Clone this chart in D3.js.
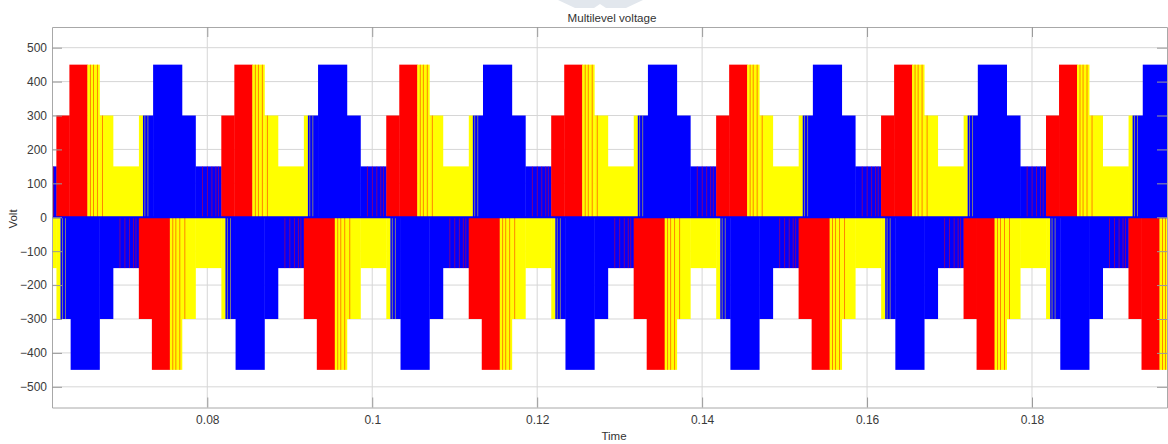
<!DOCTYPE html>
<html>
<head>
<meta charset="utf-8">
<script src="https://cdn.jsdelivr.net/npm/d3@7"></script>
<style>
  body { margin: 0; background: #fff; }
  svg text { font-family: "Liberation Sans", Arial, sans-serif; }
</style>
</head>
<body>
<script>
// axis ticks
const xTicks = [0.08, 0.1, 0.12, 0.14, 0.16, 0.18];
const yTicks = [-500, -400, -300, -200, -100, 0, 100, 200, 300, 400, 500];

// start of each cycle (red phase steps up to +300), period 0.02 s
const cycleStarts = [0.0417, 0.0617, 0.0817, 0.1017, 0.1217, 0.1417, 0.1617, 0.1817];
const halfPeriod = 0.01; // negative half is the same staircase, flipped

// visible staircase over one cycle (offsets in s from cycle start)
const stepPhase = ["A", "A", "B", "B", "B", "B", "C", "C", "C", "C"];
const stepFrom  = [0, 0.00158, 0.00376, 0.00522, 0.00686, 0.01001, 0.0105, 0.01173, 0.01522, 0.01686];
const stepTo    = [0.00158, 0.00376, 0.00522, 0.00686, 0.01001, 0.0105, 0.01173, 0.01522, 0.01686, 0.0200];
const stepLevel = [300, 450, 450, 300, 150, 300, 300, 450, 300, 150];

// thin PWM pulses of one phase showing through another
const stripePhase = ["A", "A", "A", "A", "B", "B", "A", "A", "A", "A", "A"];
const stripeAt    = [0.00412, 0.00449, 0.00497, 0.00558, 0.01073, 0.0111, 0.01771, 0.01831, 0.01886, 0.01934, 0.01965];
const stripeLevel = [450, 450, 450, 300, 300, 300, 150, 150, 150, 150, 150];

const phaseColor = { A: "#ff0000", B: "#ffff00", C: "#0000ff" };

const width = 1168, height = 444;
const plotLeft = 52, plotRight = 1167, plotTop = 27, plotBottom = 407.5;

const x = d3.scaleLinear().domain([0.06117, 0.19637]).range([plotLeft, plotRight]);
const y = d3.scaleLinear().domain([-561, 561]).range([plotBottom, plotTop]);

var svg = d3.select("body").append("svg")
    .attr("width", width)
    .attr("height", height);

// faint toolbar tab at the top
svg.append("path")
    .attr("d", "M558,0 L643,0 L626,8 L606,8 L600,4 L594,8 L575,8 Z")
    .attr("fill", "#e2e7ed");

svg.append("defs").append("clipPath").attr("id", "plotclip")
    .append("rect")
    .attr("x", plotLeft).attr("y", plotTop)
    .attr("width", plotRight - plotLeft).attr("height", plotBottom - plotTop);

// grid
var grid = svg.append("g");
grid.selectAll(".gx").data(xTicks).enter().append("line")
    .attr("x1", d => x(d)).attr("x2", d => x(d))
    .attr("y1", plotTop).attr("y2", plotBottom)
    .attr("stroke", "#d6d6d6");
grid.selectAll(".gy").data(yTicks).enter().append("line")
    .attr("x1", plotLeft).attr("x2", plotRight)
    .attr("y1", d => y(d)).attr("y2", d => y(d))
    .attr("stroke", "#d6d6d6");

// build blocks from the template, positive half then mirrored negative half
var blocks = [];
var stripes = [];
cycleStarts.forEach(c => {
    [1, -1].forEach(sign => {
        const t0 = sign > 0 ? c : c + halfPeriod;
        stepPhase.forEach((p, i) => {
            blocks.push({ phase: p, from: t0 + stepFrom[i], to: t0 + stepTo[i], level: sign * stepLevel[i] });
        });
        stripePhase.forEach((p, i) => {
            stripes.push({ phase: p, at: t0 + stripeAt[i], level: sign * stripeLevel[i] });
        });
    });
});

var plot = svg.append("g").attr("clip-path", "url(#plotclip)");

plot.selectAll(".block")
    .data(blocks)
    .enter().append("rect")
    .attr("class", "block")
    .attr("x", d => x(d.from))
    .attr("width", d => x(d.to) - x(d.from) + 0.4)
    .attr("y", d => y(Math.max(d.level, 0)))
    .attr("height", d => Math.abs(y(d.level) - y(0)))
    .attr("fill", d => phaseColor[d.phase]);

plot.selectAll(".stripe")
    .data(stripes)
    .enter().append("rect")
    .attr("class", "stripe")
    .attr("x", d => x(d.at) - 0.4)
    .attr("width", 0.8)
    .attr("y", d => y(Math.max(d.level, 0)))
    .attr("height", d => Math.abs(y(d.level) - y(0)))
    .attr("fill", d => phaseColor[d.phase])
    .attr("opacity", 0.6);

// blue trace sitting on zero
plot.append("line")
    .attr("x1", plotLeft).attr("x2", plotRight)
    .attr("y1", y(0)).attr("y2", y(0))
    .attr("stroke", "#0000ff")
    .attr("stroke-width", 2.2);

// axes, MATLAB style ticks pointing inward
const axisColor = "#a8a8a8";
var xAxis = svg.append("g")
    .attr("transform", `translate(0,${plotBottom})`)
    .call(d3.axisBottom(x).tickValues(xTicks).tickFormat(d3.format("")).tickSizeInner(-10).tickSizeOuter(0).tickPadding(8));
var xTop = svg.append("g")
    .attr("transform", `translate(0,${plotTop})`)
    .call(d3.axisTop(x).tickValues(xTicks).tickFormat("").tickSizeInner(-10).tickSizeOuter(0));
var yAxis = svg.append("g")
    .attr("transform", `translate(${plotLeft},0)`)
    .call(d3.axisLeft(y).tickValues(yTicks).tickSizeInner(-10).tickSizeOuter(0).tickPadding(5));
var yRight = svg.append("g")
    .attr("transform", `translate(${plotRight},0)`)
    .call(d3.axisRight(y).tickValues(yTicks).tickFormat("").tickSizeInner(-10).tickSizeOuter(0));

[xAxis, xTop, yAxis, yRight].forEach(a => {
    a.select(".domain").attr("stroke", axisColor);
    a.selectAll(".tick line").attr("stroke", "#9a9a9a");
    a.selectAll("text").attr("fill", "#3a3a3a").attr("font-size", 12)
        .attr("font-family", "'Liberation Sans', Arial, sans-serif");
});

// title and axis labels
svg.append("text")
    .attr("x", 612).attr("y", 22)
    .attr("text-anchor", "middle")
    .attr("font-size", 11.6)
    .attr("fill", "#333")
    .text("Multilevel voltage");

svg.append("text")
    .attr("x", 614).attr("y", 440)
    .attr("text-anchor", "middle")
    .attr("font-size", 11.5)
    .attr("fill", "#333")
    .text("Time");

svg.append("text")
    .attr("transform", "translate(17,219) rotate(-90)")
    .attr("text-anchor", "middle")
    .attr("font-size", 11.5)
    .attr("fill", "#333")
    .text("Volt");
</script>
</body>
</html>
